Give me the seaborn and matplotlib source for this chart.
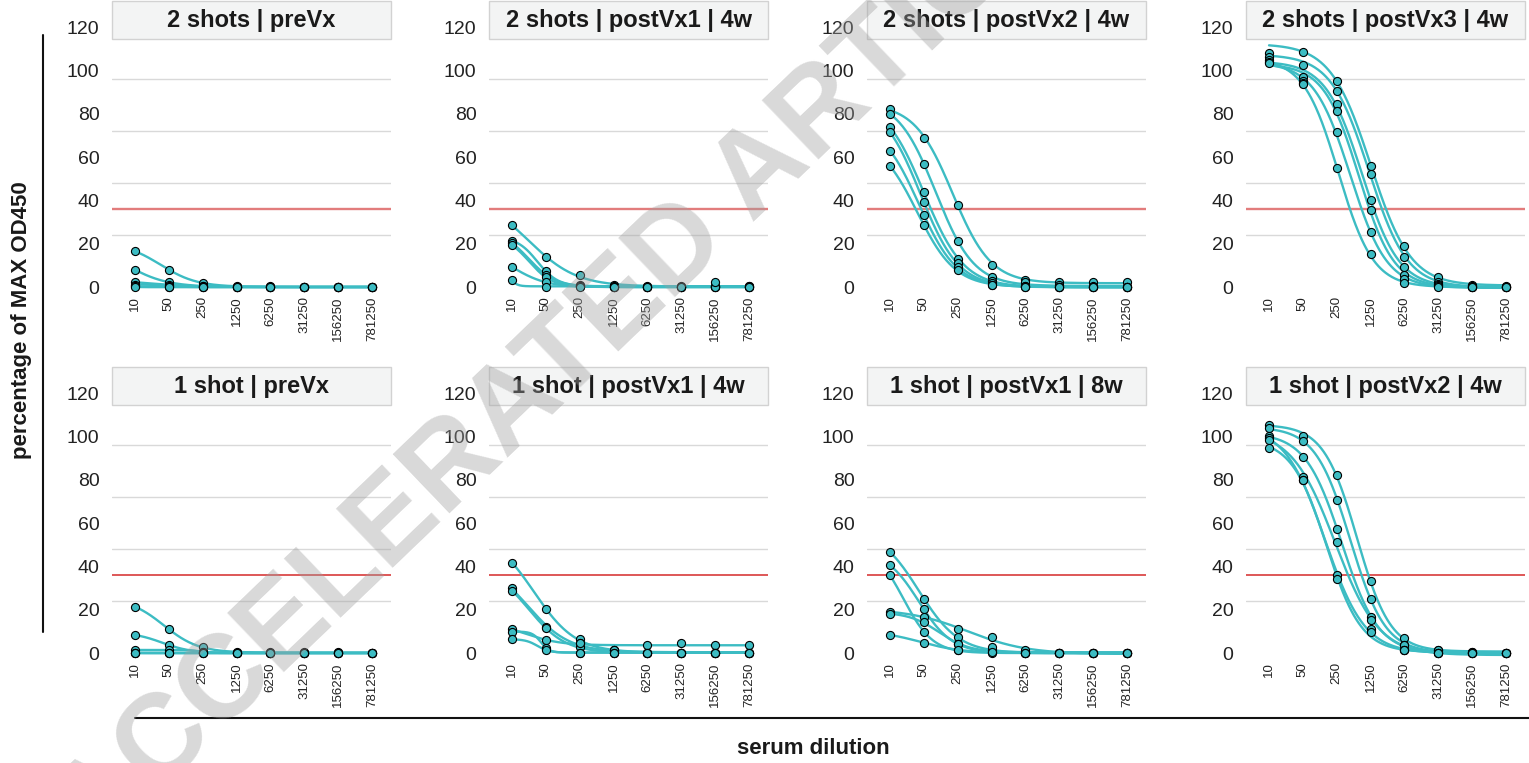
import numpy as np
import pandas as pd
import matplotlib
matplotlib.use("Agg")
import matplotlib.pyplot as plt
import seaborn as sns
from matplotlib.lines import Line2D
from matplotlib.patches import Rectangle

# ---------------- data ----------------
dilutions = [10, 50, 250, 1250, 6250, 31250, 156250, 781250]
dilution_labels = [str(d) for d in dilutions]
ytick_values = [0, 20, 40, 60, 80, 100, 120]
gridline_values = [24, 48, 72, 96]
threshold = 36

panel_titles = [
    "2 shots | preVx", "2 shots | postVx1 | 4w", "2 shots | postVx2 | 4w", "2 shots | postVx3 | 4w",
    "1 shot | preVx", "1 shot | postVx1 | 4w", "1 shot | postVx1 | 8w", "1 shot | postVx2 | 4w",
]

two_shots_preVx = [
    [16.5, 8.0, 1.8, 0.3, 0.3, 0.0, 0.0, 0.0],
    [8.0, 2.2, 0.5, 0.0, 0.0, 0.0, 0.0, 0.0],
    [2.2, 1.0, 0.3, 0.0, 0.0, 0.0, 0.0, 0.0],
    [1.1, 0.5, 0.0, 0.0, 0.0, 0.0, 0.0, 0.0],
    [0.3, 0.0, 0.0, 0.0, 0.0, 0.0, 0.0, 0.0],
    [0.0, 0.0, 0.0, 0.0, 0.0, 0.0, 0.0, 0.0],
]
two_shots_postVx1_4w = [
    [28.5, 13.9, 5.4, 0.8, 0.5, 0.3, 0.3, 0.3],
    [21.4, 7.2, 0.8, 0.3, 0.2, 0.2, 0.5, 0.5],
    [20.2, 5.7, 0.5, 0.2, 0.0, 0.0, 0.0, 0.0],
    [19.3, 4.5, 0.3, 0.0, 0.0, 0.0, 0.0, 0.0],
    [9.2, 2.2, 0.3, 0.0, 0.0, 0.0, 0.0, 0.0],
    [3.2, 0.0, 0.0, 0.0, 0.0, 0.0, 2.2, 0.0],
]
two_shots_postVx2_4w = [
    [82.3, 68.9, 38.1, 10.3, 3.4, 2.2, 2.2, 2.2],
    [80.0, 57.0, 21.1, 4.5, 2.2, 0.8, 0.3, 0.0],
    [73.8, 43.9, 13.1, 2.9, 0.3, 0.0, 0.0, 0.0],
    [71.5, 39.1, 11.1, 1.8, 0.3, 0.0, 0.0, 0.0],
    [63.0, 33.3, 9.2, 1.1, 0.0, 0.0, 0.0, 0.0],
    [55.9, 28.5, 8.0, 1.1, 0.0, 0.0, 0.0, 0.0],
]
two_shots_postVx3_4w = [
    [np.nan, 108.6, 95.4, 56.1, 18.8, 4.5, 1.0, 0.5],
    [108.0, 102.8, 90.4, 52.4, 14.0, 2.2, 0.5, 0.0],
    [106.2, 96.9, 84.6, 40.2, 9.2, 1.5, 0.0, 0.0],
    [105.0, 95.4, 81.2, 35.6, 5.7, 1.0, 0.0, 0.0],
    [104.0, 94.3, 71.5, 25.4, 3.5, 0.5, 0.0, 0.0],
    [103.5, 94.0, 55.0, 15.3, 1.8, 0.0, 0.0, 0.0],
]
one_shot_preVx = [
    [21.4, 10.9, 2.6, 0.3, 0.3, 0.3, 0.3, 0.0],
    [8.3, 3.7, 0.6, 0.0, 0.0, 0.0, 0.0, 0.0],
    [1.4, 1.4, 0.6, 0.0, 0.0, 0.0, 0.0, 0.0],
    [0.2, 0.0, 0.0, 0.0, 0.0, 0.0, 0.0, 0.0],
    [0.0, 0.0, 0.0, 0.0, 0.0, 0.0, 0.0, 0.0],
    [0.0, 0.0, 0.0, 0.0, 0.0, 0.0, 0.0, 0.0],
]
one_shot_postVx1_4w = [
    [41.8, 20.3, 6.3, 1.4, 0.2, 0.2, 0.2, 0.2],
    [29.9, 11.9, 4.8, 1.4, 0.2, 0.2, 0.2, 0.2],
    [28.8, 11.5, 2.6, 0.2, 0.2, 0.2, 0.2, 0.2],
    [10.9, 6.0, 4.8, 1.4, 3.7, 4.8, 3.7, 3.7],
    [9.9, 2.5, 0.2, 0.2, 0.2, 0.2, 0.2, 0.2],
    [6.3, 1.4, 0.2, 0.2, 0.2, 0.2, 0.2, 0.2],
]
one_shot_postVx1_8w = [
    [46.7, 25.1, 7.2, 1.4, 0.2, 0.0, 0.0, 0.0],
    [40.5, 20.3, 4.0, 0.6, 0.0, 0.0, 0.0, 0.0],
    [35.9, 9.6, 1.4, 0.0, 0.0, 0.0, 0.0, 0.0],
    [19.1, 16.8, 10.9, 7.2, 1.4, 0.0, 0.0, 0.0],
    [18.0, 14.2, 4.0, 2.6, 0.2, 0.0, 0.0, 0.0],
    [8.3, 4.8, 1.4, 0.6, 0.0, 0.0, 0.0, 0.0],
]
one_shot_postVx2_4w = [
    [105.4, 100.5, 82.3, 33.4, 7.1, 1.4, 0.5, 0.0],
    [103.9, 98.2, 70.7, 25.1, 3.7, 1.4, 0.5, 0.0],
    [100.3, 90.8, 57.5, 16.8, 3.7, 0.0, 0.0, 0.0],
    [99.2, 81.5, 51.3, 15.3, 1.4, 0.0, 0.0, 0.0],
    [98.5, 80.0, 35.9, 10.9, 1.4, 0.0, 0.0, 0.0],
    [94.6, 80.0, 34.4, 9.7, 1.4, 0.0, 0.0, 0.0],
]

panel_data = [two_shots_preVx, two_shots_postVx1_4w, two_shots_postVx2_4w, two_shots_postVx3_4w,
              one_shot_preVx, one_shot_postVx1_4w, one_shot_postVx1_8w, one_shot_postVx2_4w]

# ---------------- 4PL fit (log-dilution scale) ----------------
def fit_4pl(x, y):
    m = ~np.isnan(y)
    x = x[m]; y = y[m]
    cs = np.linspace(-1.5, 8.5, 201)
    hs = np.exp(np.linspace(np.log(0.4), np.log(9.0), 70))
    C, H = np.meshgrid(cs, hs, indexing="ij")
    s = 1.0 / (1.0 + np.exp(H[..., None] * (x[None, None, :] - C[..., None])))
    a1, a2 = 1 - s, s
    S11 = (a1 * a1).sum(-1); S12 = (a1 * a2).sum(-1); S22 = (a2 * a2).sum(-1)
    r1 = (a1 * y).sum(-1); r2 = (a2 * y).sum(-1)
    det = S11 * S22 - S12 ** 2
    det = np.where(np.abs(det) < 1e-9, np.nan, det)
    b = (S22 * r1 - S12 * r2) / det
    t = (S11 * r2 - S12 * r1) / det
    pred = b[..., None] * a1 + t[..., None] * a2
    sse = ((pred - y) ** 2).sum(-1)
    bad = np.isnan(sse) | (t > y.max() + 15) | (b < y.min() - 3) | (t < b)
    sse = np.where(bad, np.inf, sse)
    i = np.unravel_index(np.argmin(sse), sse.shape)
    return b[i], t[i], C[i], H[i]

xpos = np.arange(len(dilutions), dtype=float)
xfine = np.linspace(0, len(dilutions) - 1, 300)

# ---------------- style ----------------
sns.set_theme(style="white")
plt.rcParams["font.family"] = ["Liberation Sans", "DejaVu Sans"]

teal = "#3cbcc3"
W, H_ = 1529, 763
fig = plt.figure(figsize=(W / 100, H_ / 100), dpi=100)

col_left = [112, 489, 867, 1246]
row_top = [1, 367]
ax_w, ax_h = 279, 291
zero_px_from_top = 286  # zero line distance from axes top
px_per_unit = 2.163
ytop = zero_px_from_top / px_per_unit
ybot = -(ax_h - zero_px_from_top) / px_per_unit
strip_h_px = 38

for k, (title, data) in enumerate(zip(panel_titles, panel_data)):
    r, c = divmod(k, 4)
    left = col_left[c] / W
    bottom = (H_ - row_top[r] - ax_h) / H_
    ax = fig.add_axes([left, bottom, ax_w / W, ax_h / H_])
    ax.set_facecolor("none")

    pts, curves = [], []
    for si, vals in enumerate(data):
        vals = np.array(vals, dtype=float)
        b, t, c50, h = fit_4pl(xpos, vals)
        yfit = b + (t - b) / (1 + np.exp(h * (xfine - c50)))
        curves.append(pd.DataFrame({"x": xfine, "y": yfit, "sample": si}))
        pts.append(pd.DataFrame({"x": xpos, "y": vals, "sample": si}))
    dfc = pd.concat(curves, ignore_index=True)
    dfp = pd.concat(pts, ignore_index=True).dropna()

    for g in gridline_values:
        ax.axhline(g, color="#d9d9d9", lw=1.0, zorder=1)
    if r == 0:
        ax.axhline(threshold, color="#e27c7c", lw=1.7, zorder=1.5)
    else:
        ax.axhline(threshold, color="#d42a2a", lw=1.1, zorder=1.5)

    sns.lineplot(data=dfc, x="x", y="y", units="sample", estimator=None,
                 color=teal, lw=1.7, ax=ax, legend=False, zorder=2)
    sns.scatterplot(data=dfp, x="x", y="y", color=teal, edgecolor="black",
                    linewidth=0.8, s=34, ax=ax, legend=False, zorder=3, clip_on=False)

    ax.set_xlim(-0.68, 7.56)
    ax.set_ylim(ybot, ytop)
    ax.set_xticks(xpos)
    ax.set_xticklabels(dilution_labels, rotation=90, fontsize=9.5, color="#222222")
    ax.set_yticks(ytick_values)
    ax.set_yticklabels([str(v) for v in ytick_values], fontsize=14, color="#222222")
    ax.tick_params(axis="x", length=0, pad=3)
    ax.tick_params(axis="y", length=0, pad=9)
    ax.set_xlabel("")
    ax.set_ylabel("")
    ax.grid(False)
    for sp in ax.spines.values():
        sp.set_visible(False)

    sb = 1 - strip_h_px / ax_h
    ax.add_patch(Rectangle((0, sb), 1, 1 - sb, transform=ax.transAxes,
                           facecolor="#f3f4f4", edgecolor="#d2d2d2", lw=1.0,
                           zorder=5, clip_on=False))
    ax.text(0.5, sb + (1 - sb) / 2, title, transform=ax.transAxes, ha="center",
            va="center", fontsize=17, fontweight="bold", color="#1a1a1a", zorder=6)

# global axis labels and lines
fig.add_artist(Line2D([43 / W, 43 / W], [(H_ - 632) / H_, (H_ - 35) / H_],
                      color="#111111", lw=1.5, transform=fig.transFigure))
fig.add_artist(Line2D([135 / W, 1.0], [(H_ - 718) / H_, (H_ - 718) / H_],
                      color="#111111", lw=1.5, transform=fig.transFigure))
fig.text(22 / W, (H_ - 320) / H_, "percentage of MAX OD450", rotation=90,
         ha="center", va="center", fontsize=16, fontweight="bold", color="#1a1a1a")
fig.text(813 / W, (H_ - 748) / H_, "serum dilution", ha="center", va="center",
         fontsize=16, fontweight="bold", color="#1a1a1a")

# watermark
fig.text(795 / W, (H_ - 140) / H_, "ACCELERATED ARTICLE PREVIEW", rotation=43.8,
         rotation_mode="anchor", ha="center", va="center", fontsize=85,
         fontweight="bold", color="#a0a0a0", alpha=0.4, zorder=10)

fig.savefig("out.png", dpi=100)
